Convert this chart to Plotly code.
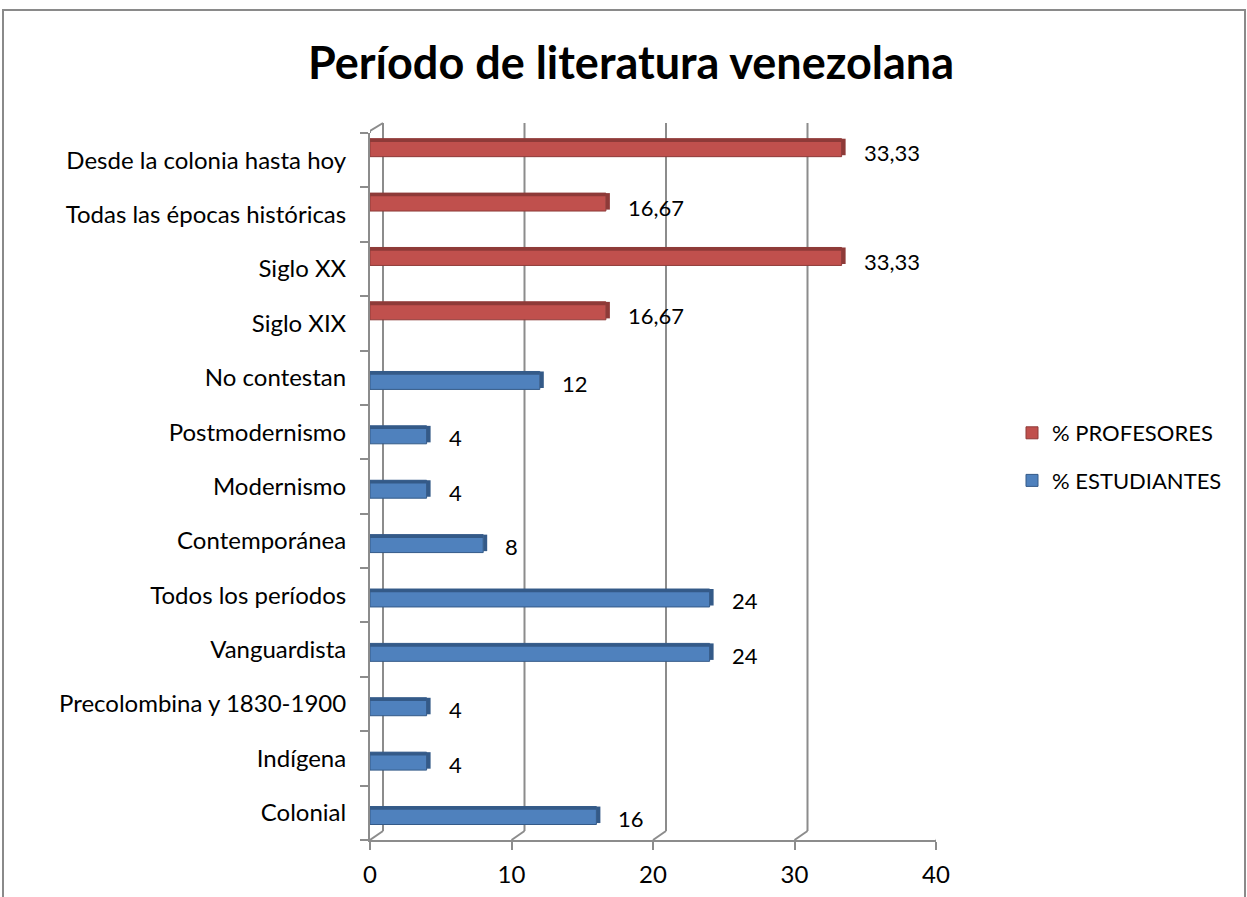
import plotly.graph_objects as go

# ---- data ----
categories = [
    "Colonial", "Indígena", "Precolombina y 1830-1900", "Vanguardista",
    "Todos los períodos", "Contemporánea", "Modernismo", "Postmodernismo",
    "No contestan", "Siglo XIX", "Siglo XX", "Todas las épocas históricas",
    "Desde la colonia hasta hoy",
]
estudiantes = [16, 4, 4, 24, 24, 8, 4, 4, 12, None, None, None, None]
profesores = [None, None, None, None, None, None, None, None, None, 16.67, 33.33, 16.67, 33.33]
x_ticks = [0, 10, 20, 30, 40]
title_text = "Período de literatura venezolana"

# ---- geometry (pixels) ----
W, H = 1247, 897
PL, PR, PT, PB = 370, 936, 133, 840
pw, ph = PR - PL, PB - PT
ux = pw / 40.0
cat_px = ph / len(categories)
dx_px, dy_px = 13, 9
dxu = dx_px / ux

def px_x(p):
    return (p - PL) / pw

def px_y(p):
    return (PB - p) / ph

RED, RED_D = "#C0504D", "#8E3A38"
BLUE, BLUE_D = "#4F81BD", "#345A88"
GRID = "#8C8C8C"
FONT = "Lato"

def fmt(v):
    return (f"{v:g}").replace(".", ",")

bw = 0.33
prof_c, est_c = 0.23, -0.05

fig = go.Figure()
for name, vals, c, col, dcol, rank in (
    ("% PROFESORES", profesores, prof_c, RED, RED_D, 1),
    ("% ESTUDIANTES", estudiantes, est_c, BLUE, BLUE_D, 2),
):
    fig.add_trace(go.Bar(
        y=categories, x=vals, orientation="h", name=name,
        marker=dict(color=col, line=dict(color=dcol, width=1)),
        width=bw, offset=c - bw / 2, cliponaxis=False,
        legendrank=rank, legendgroup=name,
    ))

# 3D decoration: darker top face and end face
strip = 0.06
end_w = 4 / ux
for vals, c, dc in ((profesores, prof_c, RED_D), (estudiantes, est_c, BLUE_D)):
    fig.add_trace(go.Bar(
        y=categories, x=vals, orientation="h", showlegend=False, hoverinfo="skip",
        marker=dict(color=dc, line=dict(width=0)),
        width=strip, offset=c + bw / 2 - strip, cliponaxis=False,
    ))
    fig.add_trace(go.Bar(
        y=categories, x=[None if v is None else end_w for v in vals], base=vals,
        orientation="h", showlegend=False, hoverinfo="skip",
        marker=dict(color=dc, line=dict(width=0)),
        width=bw * 0.92, offset=c - bw / 2 + bw * 0.08, cliponaxis=False,
    ))

# data labels
annotations = []
for vals, c, dy in ((profesores, prof_c, -5), (estudiantes, est_c, -3)):
    for cat, v in zip(categories, vals):
        if v is None:
            continue
        annotations.append(dict(
            x=v, y=cat, xref="x", yref="y", text=fmt(v), showarrow=False,
            xanchor="left", yanchor="middle", xshift=20, yshift=c * cat_px + dy,
            font=dict(family=FONT, size=22, color="black"),
        ))

shapes = []
line = dict(color=GRID, width=2)
y_top_back = px_y(PT - dy_px - 1)
y_bot_back = px_y(PB - dy_px)
for v in x_ticks:
    shapes.append(dict(type="line", xref="x", yref="paper", x0=v + dxu, x1=v + dxu,
                       y0=y_bot_back, y1=y_top_back, line=line, layer="below"))
    shapes.append(dict(type="line", xref="x", yref="paper", x0=v + dxu, x1=v,
                       y0=y_bot_back, y1=0, line=line, layer="below"))
shapes.append(dict(type="line", xref="x", yref="paper", x0=0, x1=dxu,
                   y0=px_y(PT - 2), y1=y_top_back, line=line, layer="below"))
shapes.append(dict(type="line", xref="x", yref="paper", x0=0, x1=0,
                   y0=1, y1=px_y(PT - 2), line=line, layer="below"))
shapes.append(dict(type="rect", xref="paper", yref="paper",
                   x0=px_x(3), x1=px_x(1245), y0=px_y(H + 20), y1=px_y(10),
                   line=dict(color="#8A8A8A", width=2), layer="below"))

fig.update_layout(
    width=W, height=H,
    margin=dict(l=PL, r=W - PR, t=PT, b=H - PB, autoexpand=False),
    paper_bgcolor="white", plot_bgcolor="white",
    barmode="overlay",
    title=dict(text=f"<b>{title_text}</b>", x=631 / W, xref="container", xanchor="center",
               y=1 - 63 / H, yanchor="middle", yref="container",
               font=dict(family=FONT, size=45, color="black")),
    font=dict(family=FONT, size=22, color="black"),
    xaxis=dict(range=[0, 40], tickvals=x_ticks, showgrid=False, zeroline=False,
               showline=True, linecolor=GRID, linewidth=2,
               ticks="outside", ticklen=8, tickcolor=GRID, tickwidth=2,
               ticklabelstandoff=4,
               tickfont=dict(family=FONT, size=24, color="black")),
    yaxis=dict(type="category", categoryorder="array", categoryarray=categories,
               range=[-0.5, len(categories) - 0.5], showgrid=False, zeroline=False,
               showline=True, linecolor=GRID, linewidth=2,
               ticks="outside", ticklen=8, tickcolor=GRID, tickwidth=2,
               tickson="boundaries", ticklabelstandoff=17,
               tickfont=dict(family=FONT, size=24, color="black")),
    legend=dict(x=px_x(1012), y=px_y(412), xanchor="left", yanchor="top",
                xref="paper", yref="paper",
                font=dict(family=FONT, size=22, color="black"),
                tracegroupgap=16, traceorder="grouped", bgcolor="rgba(0,0,0,0)"),
    shapes=shapes,
    annotations=annotations,
    showlegend=True,
)

fig.write_html("out.html", config={"displayModeBar": False},
               post_script="document.body.style.margin='0';document.body.style.overflow='hidden';")
